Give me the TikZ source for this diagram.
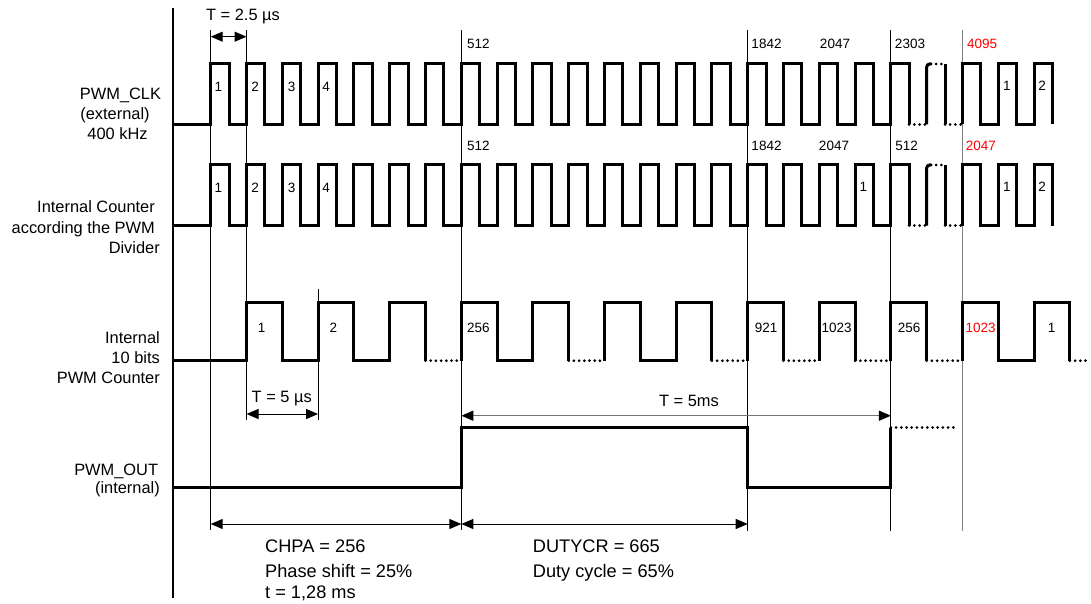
\documentclass[tikz,border=0pt]{standalone}
\usepackage{fontspec}
\setmainfont{Liberation Sans}
\usetikzlibrary{arrows.meta}
\begin{document}
\begin{tikzpicture}[x=1pt,y=-1pt,
  wave/.style={line width=3pt, line join=miter},
  dotw/.style={line width=3pt, line cap=round, dash pattern=on 0pt off 5.2pt},
  guide/.style={line width=0.9pt},
  gguide/.style={line width=1.5pt, draw=black!50},
  dim/.style={line width=1pt, {Triangle[length=12pt,width=10pt,color=black]}-{Triangle[length=12pt,width=10pt,color=black]}},
  lab/.style={font=\fontsize{16.4}{19}\selectfont, inner sep=0pt},
  num/.style={font=\fontsize{13.5}{16}\selectfont, inner sep=0pt},
  big/.style={font=\fontsize{18.2}{22}\selectfont, inner sep=0pt, anchor=base west},
  redn/.style={num, text=red},
]
\path[use as bounding box, fill=white] (0,0) rectangle (1091,604);

% axis
\draw[line width=2pt] (173,8) -- (173,598);

% guide lines
\draw[guide] (210.7,30) -- (210.7,530);
\draw[guide] (246.5,30) -- (246.5,420);
\draw[guide] (318.1,289) -- (318.1,420);
\draw[guide] (461.3,30) -- (461.3,530);
\draw[guide] (747.7,30) -- (747.7,531);
\draw[guide] (890.9,30) -- (890.9,531);
\draw[gguide] (962.5,30) -- (962.5,531);

% clock rows
\foreach \yt/\yb in {64/124.5, 165/225.5}{
  \draw[wave] (173,\yb) \foreach \k in {0,...,19}{
     -- ({210.7+\k*35.8},\yb) -- ({210.7+\k*35.8},\yt) -- ({229+\k*35.8},\yt) -- ({229+\k*35.8},\yb) };
  \draw[dotw] (909.2,\yb) -- (926.7,\yb);
  \draw[wave, rounded corners=3pt] (926.7,\yb) -- (926.7,\yt) -- (931,\yt);
  \draw[dotw] (931,\yt) -- (945,\yt);
  \draw[wave] (945,\yt) -- (945,\yb);
  \draw[dotw] (945,\yb) -- (962.5,\yb);
  \draw[wave] (962.5,\yb) -- (962.5,\yt) -- (980.8,\yt) -- (980.8,\yb) -- (998.3,\yb)
     -- (998.3,\yt) -- (1016.6,\yt) -- (1016.6,\yb) -- (1034.1,\yb) -- (1034.1,\yt)
     -- (1052.4,\yt) -- (1052.4,\yb);
}

% 10-bit counter row
\def\ht{302}\def\lw{360.7}
\draw[wave] (173,\lw) -- (246.5,\lw) -- (246.5,\ht) -- (282.3,\ht) -- (282.3,\lw) -- (318.1,\lw)
  -- (318.1,\ht) -- (353.9,\ht) -- (353.9,\lw) -- (389.7,\lw) -- (389.7,\ht) -- (425.5,\ht) -- (425.5,\lw);
\draw[dotw] (425.5,\lw) -- (461.3,\lw);
\draw[wave] (461.3,\lw) -- (461.3,\ht) -- (497.1,\ht) -- (497.1,\lw) -- (532.9,\lw) -- (532.9,\ht)
  -- (568.7,\ht) -- (568.7,\lw);
\draw[dotw] (568.7,\lw) -- (604.5,\lw);
\draw[wave] (604.5,\lw) -- (604.5,\ht) -- (640.3,\ht) -- (640.3,\lw) -- (676.1,\lw) -- (676.1,\ht)
  -- (711.9,\ht) -- (711.9,\lw);
\draw[dotw] (711.9,\lw) -- (747.7,\lw);
\draw[wave] (747.7,\lw) -- (747.7,\ht) -- (783.5,\ht) -- (783.5,\lw);
\draw[dotw] (783.5,\lw) -- (819.3,\lw);
\draw[wave] (819.3,\lw) -- (819.3,\ht) -- (855.1,\ht) -- (855.1,\lw);
\draw[dotw] (855.1,\lw) -- (890.9,\lw);
\draw[wave] (890.9,\lw) -- (890.9,\ht) -- (926.7,\ht) -- (926.7,\lw);
\draw[dotw] (926.7,\lw) -- (962.5,\lw);
\draw[wave] (962.5,\lw) -- (962.5,\ht) -- (998.3,\ht) -- (998.3,\lw) -- (1034.1,\lw) -- (1034.1,\ht)
  -- (1069.9,\ht) -- (1069.9,\lw);
\draw[dotw] (1069.9,\lw) -- (1090,\lw);

% PWM_OUT row
\draw[wave] (173,487.5) -- (461.3,487.5) -- (461.3,427.5) -- (747.7,427.5) -- (747.7,487.5)
  -- (890.9,487.5) -- (890.9,427.5);
\draw[dotw] (890.9,427.5) -- (956,427.5);

% dimension arrows
\coordinate (a1) at (210.7,36.7); \coordinate (a2) at (246.5,36.7);
\coordinate (b1) at (246.5,414); \coordinate (b2) at (318.1,414);
\coordinate (c1) at (461.3,415.7); \coordinate (c2) at (890.9,415.7);
\coordinate (d1) at (210.7,524); \coordinate (d2) at (461.3,524); \coordinate (d3) at (747.7,524);
\draw[dim] (a1) -- (a2);
\draw[dim] (b1) -- (b2);
\draw[dim, draw=black!55, line width=1.3pt] (c1) -- (c2);
\draw[dim] (d1) -- (d2);
\draw[dim] (d2) -- (d3);

\node[lab, anchor=base] (tA) at (243,21) {T = 2.5 µs};
\node[lab, anchor=base] (tB) at (281.7,402.7) {T = 5 µs};
\node[lab, anchor=base] (tC) at (689,406.5) {T = 5ms};

% left labels
\node[lab, anchor=base] (l1a) at (120.5,99.5) {PWM\_CLK};
\node[lab, anchor=base] (l1b) at (115,119.5) {(external)};
\node[lab, anchor=base] (l1c) at (117.5,140) {400 kHz};
\node[lab, anchor=base east] (l2a) at (155,212.7) {Internal Counter};
\node[lab, anchor=base east] (l2b) at (155,233) {according the PWM};
\node[lab, anchor=base east] (l2c) at (160,253.3) {Divider};
\node[lab, anchor=base east] (l3a) at (160,343.3) {Internal};
\node[lab, anchor=base east] (l3b) at (160,363.5) {10 bits};
\node[lab, anchor=base east] (l3c) at (160,383.7) {PWM Counter};
\node[lab, anchor=base east] (l4a) at (158.3,475) {PWM\_OUT};
\node[lab, anchor=base east] (l4b) at (160,493) {(internal)};

% row 1 numbers
\node[num] (r1n1) at (218.5,91.5) {1};
\node[num] (r1n2) at (255,91.5) {2};
\node[num] (r1n3) at (291.5,91.5) {3};
\node[num] (r1n4) at (326,91.5) {4};
\node[num] (r1n5) at (478.3,49) {512};
\node[num] (r1n6) at (766.5,49) {1842};
\node[num] (r1n7) at (835,49) {2047};
\node[num] (r1n8) at (910,49) {2303};
\node[redn] (r1n9) at (982,49) {4095};
\node[num] (r1n10) at (1006.8,90.5) {1};
\node[num] (r1n11) at (1042,90.5) {2};

% row 2 numbers
\node[num] (r2n1) at (218.5,192.5) {1};
\node[num] (r2n2) at (255,192.5) {2};
\node[num] (r2n3) at (291.5,192.5) {3};
\node[num] (r2n4) at (326,192.5) {4};
\node[num] (r2n5) at (478.3,150.5) {512};
\node[num] (r2n6) at (766.5,150.5) {1842};
\node[num] (r2n7) at (834,150.5) {2047};
\node[num] (r2n8) at (863.3,191.7) {1};
\node[num] (r2n9) at (906.7,150.5) {512};
\node[redn] (r2n10) at (980.8,150.5) {2047};
\node[num] (r2n11) at (1006.8,191.7) {1};
\node[num] (r2n12) at (1042,191.7) {2};

% row 3 numbers
\node[num] (r3n1) at (261.7,332.3) {1};
\node[num] (r3n2) at (333.3,332.3) {2};
\node[num] (r3n3) at (478.3,332.3) {256};
\node[num] (r3n4) at (766,332.3) {921};
\node[num] (r3n5) at (836.7,332.3) {1023};
\node[num] (r3n6) at (909,332.3) {256};
\node[redn] (r3n7) at (980.7,332.3) {1023};
\node[num] (r3n8) at (1051.7,332.3) {1};

% bottom texts
\node[big] (bA1) at (265,552.7) {CHPA = 256};
\node[big] (bA2) at (265,577.3) {Phase shift = 25\%};
\node[big] (bA3) at (265,598) {t = 1,28 ms};
\node[big] (bB1) at (532.7,552.7) {DUTYCR = 665};
\node[big] (bB2) at (532.7,577.3) {Duty cycle = 65\%};
\end{tikzpicture}
\end{document}
